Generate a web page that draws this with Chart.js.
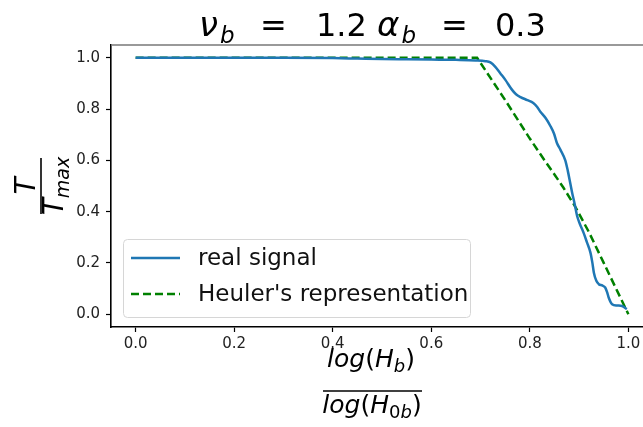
<!DOCTYPE html>
<html>
<head>
<meta charset="utf-8">
<script src="https://cdn.jsdelivr.net/npm/chart.js@4.4.1/dist/chart.umd.min.js"></script>
<style>
  html, body { margin: 0; padding: 0; background: #fff; overflow: hidden; }
  #wrap { width: 643px; height: 427px; overflow: hidden; position: relative; }
</style>
</head>
<body>
<div id="wrap"><canvas id="c" width="656" height="427" style="width:656px;height:427px"></canvas></div>
<script>
// ---- data ----
const seriesNames = ["real signal", "Heuler's representation"];
const xReal = [0.00, 0.10, 0.20, 0.30, 0.40, 0.45, 0.50, 0.55, 0.60, 0.65, 0.69, 0.71, 0.72, 0.73, 0.74, 0.75, 0.764, 0.772, 0.781, 0.795, 0.807, 0.815, 0.821, 0.832, 0.842, 0.849, 0.855, 0.862, 0.872, 0.877, 0.882, 0.886, 0.891, 0.896, 0.902, 0.909, 0.916, 0.923, 0.927, 0.930, 0.935, 0.940, 0.947, 0.953, 0.957, 0.960, 0.967, 0.977, 0.987, 0.997];
const yReal = [1.000, 1.000, 1.000, 1.000, 0.999, 0.997, 0.995, 0.994, 0.993, 0.992, 0.990, 0.987, 0.982, 0.965, 0.940, 0.915, 0.875, 0.858, 0.847, 0.835, 0.824, 0.808, 0.791, 0.765, 0.733, 0.705, 0.668, 0.642, 0.600, 0.560, 0.512, 0.473, 0.430, 0.383, 0.350, 0.318, 0.280, 0.240, 0.200, 0.162, 0.130, 0.117, 0.112, 0.104, 0.085, 0.065, 0.039, 0.034, 0.032, 0.020];
const xHeuler = [0.00, 0.20, 0.40, 0.60, 0.693, 0.75, 0.80, 0.826, 0.85, 0.868, 0.892, 0.92, 0.95, 0.975, 1.00];
const yHeuler = [1.000, 1.000, 1.000, 1.000, 1.000, 0.835, 0.685, 0.611, 0.545, 0.494, 0.420, 0.320, 0.200, 0.100, 0.000];
const xTicks = [0.0, 0.2, 0.4, 0.6, 0.8, 1.0];
const yTicks = [0.0, 0.2, 0.4, 0.6, 0.8, 1.0];

const FAM = '"DejaVu Sans", sans-serif';
const BLUE = '#1f77b4';
const GREEN = '#008000';

function drawRuns(ctx, parts, cx, y) {
  let w = 0;
  parts.forEach(p => { ctx.font = p.f; p.w = ctx.measureText(p.t).width; w += p.w; });
  let x = cx - w / 2;
  ctx.textAlign = 'left';
  ctx.textBaseline = 'alphabetic';
  parts.forEach(p => { ctx.font = p.f; ctx.fillText(p.t, x, y + (p.dy || 0)); x += p.w; });
}

const decor = {
  id: 'decor',
  afterDraw(chart) {
    const ctx = chart.ctx;
    const a = chart.chartArea;
    ctx.save();
    // top spine
    ctx.strokeStyle = '#777';
    ctx.lineWidth = 1.6;
    ctx.beginPath(); ctx.moveTo(a.left, a.top); ctx.lineTo(a.right, a.top); ctx.stroke();

    ctx.fillStyle = '#000';
    // title
    const IT = 'italic 34px ' + FAM, IS = 'italic 23px ' + FAM, NT = '32px ' + FAM;
    const tb = 36;
    ctx.textAlign = 'left'; ctx.textBaseline = 'alphabetic';
    ctx.font = IT; ctx.fillText('ν', 199, tb);
    let w = ctx.measureText('ν').width;
    ctx.font = IS; ctx.fillText('b', 199 + w + 2, tb + 7);
    ctx.font = NT; ctx.fillText('=', 260, tb);
    ctx.fillText('1.2', 316, tb);
    ctx.font = IT; ctx.fillText('α', 377, tb);
    w = ctx.measureText('α').width;
    ctx.font = IS; ctx.fillText('b', 377 + w + 2, tb + 7);
    ctx.font = NT; ctx.fillText('=', 441, tb);
    ctx.fillText('0.3', 495, tb);

    // x label
    const I25 = 'italic 25px ' + FAM, I18 = 'italic 18px ' + FAM, N25 = '25px ' + FAM;
    drawRuns(ctx, [{t:'log', f:I25}, {t:'(', f:N25}, {t:'H', f:I25}, {t:'b', f:I18, dy:5}, {t:')', f:N25}], 371, 367);
    ctx.strokeStyle = '#000'; ctx.lineWidth = 1.6;
    ctx.beginPath(); ctx.moveTo(323, 391); ctx.lineTo(422, 391); ctx.stroke();
    drawRuns(ctx, [{t:'log', f:I25}, {t:'(', f:N25}, {t:'H', f:I25}, {t:'0', f:'18px ' + FAM, dy:5}, {t:'b', f:I18, dy:5}, {t:')', f:N25}], 372, 413);

    // y label (rotated)
    ctx.save();
    ctx.translate(0, 186);
    ctx.rotate(-Math.PI / 2);
    const I27 = 'italic 28px ' + FAM, I19 = 'italic 19px ' + FAM;
    drawRuns(ctx, [{t:'T', f:I27}], 0, 35);
    ctx.beginPath(); ctx.moveTo(-28, 41); ctx.lineTo(28, 41); ctx.stroke();
    drawRuns(ctx, [{t:'T', f:I27}, {t:'max', f:I19, dy:6}], 0, 63);
    ctx.restore();

    // legend
    const lx = 123, ly = 239, lw = 347, lh = 78;
    ctx.fillStyle = 'rgba(255,255,255,0.85)';
    ctx.strokeStyle = '#d6d6d6'; ctx.lineWidth = 1;
    ctx.beginPath(); ctx.roundRect(lx + 0.5, ly + 0.5, lw, lh, 4); ctx.fill(); ctx.stroke();
    const rows = [{y: 258, c: BLUE, d: []}, {y: 294, c: GREEN, d: [8, 4]}];
    ctx.font = '23px ' + FAM;
    ctx.textBaseline = 'middle'; ctx.textAlign = 'left';
    rows.forEach((r, i) => {
      ctx.strokeStyle = r.c; ctx.lineWidth = 2.5; ctx.setLineDash(r.d);
      ctx.beginPath(); ctx.moveTo(131, r.y); ctx.lineTo(180, r.y); ctx.stroke();
      ctx.setLineDash([]);
      ctx.fillStyle = '#111';
      ctx.fillText(chart.data.datasets[i].label, 198, r.y + 1);
    });
    ctx.restore();
  }
};

const tickFont = { family: FAM, size: 15 };
new Chart(document.getElementById('c'), {
  type: 'scatter',
  data: {
    datasets: [
      { label: seriesNames[0], data: xReal.map((x, i) => ({x, y: yReal[i]})), showLine: true,
        borderColor: BLUE, borderWidth: 2.5, pointRadius: 0, cubicInterpolationMode: 'monotone', fill: false },
      { label: seriesNames[1], data: xHeuler.map((x, i) => ({x, y: yHeuler[i]})), showLine: true,
        borderColor: GREEN, borderWidth: 2.5, borderDash: [8, 4], pointRadius: 0, tension: 0, fill: false }
    ]
  },
  options: {
    responsive: false,
    animation: false,
    devicePixelRatio: 1,
    layout: { padding: { top: 45, right: 3, left: 0, bottom: 0 } },
    plugins: { legend: { display: false }, tooltip: { enabled: false }, title: { display: false } },
    scales: {
      x: {
        type: 'linear', min: -0.05, max: 1.05,
        afterBuildTicks: s => { s.ticks = xTicks.map(v => ({value: v})); },
        afterFit: s => { s.height = 100; },
        ticks: { callback: v => Number(v).toFixed(1), font: tickFont, color: '#222', padding: 3, maxRotation: 0, autoSkip: false },
        grid: { drawOnChartArea: false, drawTicks: true, tickLength: 5, color: '#000', tickWidth: 1.2 },
        border: { display: true, color: '#000', width: 1.6 }
      },
      y: {
        type: 'linear', min: -0.05, max: 1.05,
        afterBuildTicks: s => { s.ticks = yTicks.map(v => ({value: v})); },
        afterFit: s => { s.width = 111; },
        ticks: { callback: v => Number(v).toFixed(1), font: tickFont, color: '#222', padding: 6, autoSkip: false },
        grid: { drawOnChartArea: false, drawTicks: true, tickLength: 5, color: '#000', tickWidth: 1.2 },
        border: { display: true, color: '#000', width: 1.6 }
      }
    }
  },
  plugins: [decor]
});
</script>
</body>
</html>
